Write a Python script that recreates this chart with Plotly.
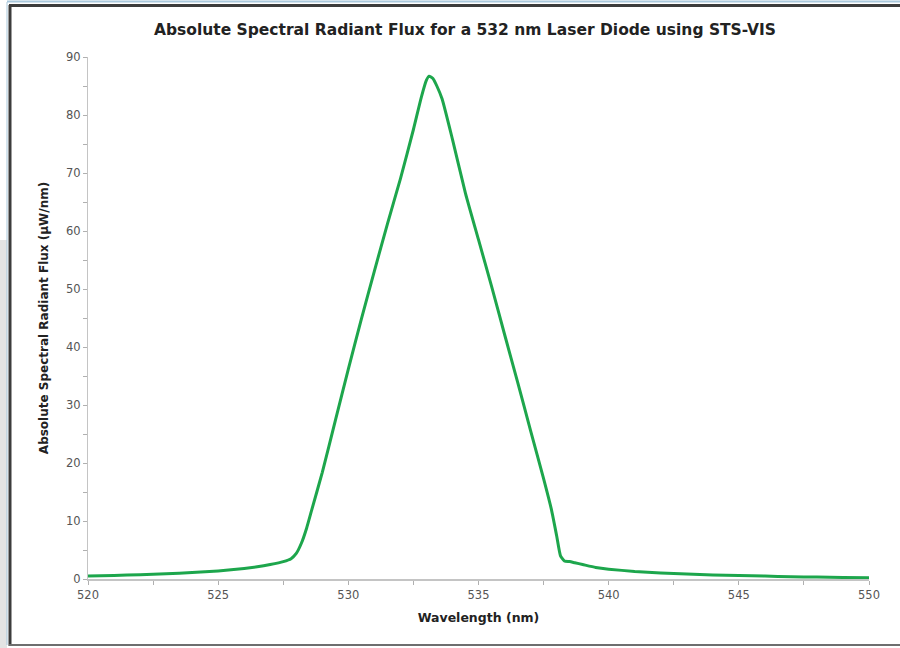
import plotly.graph_objects as go

wavelength = [520, 521, 522, 523, 524, 525, 526, 526.5, 527, 527.5, 527.8, 528.0, 528.2,
              528.4, 528.6, 529, 529.5, 530, 530.5, 531, 531.5, 532, 532.5, 532.8, 533.0,
              533.1, 533.25, 533.4, 533.6, 534, 534.5, 535, 535.5, 536, 536.5, 537, 537.5,
              537.8, 538.0, 538.15, 538.3, 538.5, 538.7, 539, 539.5, 540, 541, 542, 543,
              544, 545, 546, 547, 548, 549, 550]
flux = [0.5, 0.6, 0.75, 0.9, 1.1, 1.4, 1.8, 2.1, 2.5, 3.0, 3.5, 4.4, 6.2,
        8.8, 12.0, 18.4, 27.3, 36.2, 44.8, 53.1, 61.2, 69.0, 77.5, 83.0, 86.0,
        86.7, 86.3, 85.0, 82.8, 75.8, 66.5, 58.5, 50.5, 42.2, 34.0, 25.6, 17.3,
        12.0, 7.5, 4.0, 3.1, 3.0, 2.8, 2.5, 2.0, 1.7, 1.3, 1.05, 0.85,
        0.7, 0.6, 0.5, 0.4, 0.33, 0.27, 0.2]

title_text = "Absolute Spectral Radiant Flux for a 532 nm Laser Diode using STS-VIS"
x_title = "Wavelength (nm)"
y_title = "Absolute Spectral Radiant Flux (µW/nm)"

W, H = 900, 648
L, R, T, B = 88, 31, 57, 69
pw, ph = W - L - R, H - T - B


def px(x):
    return (x - L) / pw


def py(y):
    return (H - B - y) / ph


fig = go.Figure()
fig.add_trace(go.Scatter(
    x=wavelength, y=flux, mode="lines",
    line=dict(color="#1da64c", width=3, shape="spline", smoothing=0.5),
    hoverinfo="x+y", showlegend=False,
))

font_fam = "DejaVu Sans, Verdana, sans-serif"
axis_common = dict(
    showline=True, linecolor="#c4c4c4", showgrid=False, zeroline=False,
    ticks="outside", ticklen=4, tickcolor="#b0b0b0", tickwidth=1,
    tickfont=dict(family=font_fam, size=11.5, color="#555555"),
)

fig.update_layout(
    width=W, height=H,
    margin=dict(l=L, r=R, t=T, b=B),
    paper_bgcolor="white", plot_bgcolor="white",
    title=dict(text="<b>" + title_text + "</b>", x=465 / W, xanchor="center",
               y=1 - 30 / H, yanchor="middle",
               font=dict(family=font_fam, size=15.5, color="#222222")),
    xaxis=dict(range=[520, 550], dtick=5, tick0=520, linewidth=2,
               minor=dict(dtick=2.5, ticks="outside", ticklen=4, tickcolor="#b0b0b0"),
               title=dict(text="<b>" + x_title + "</b>", standoff=12,
                          font=dict(family=font_fam, size=12.5, color="#222222")),
               **axis_common),
    yaxis=dict(range=[0, 90], dtick=10, tick0=0, linewidth=1,
               minor=dict(dtick=5, ticks="outside", ticklen=4, tickcolor="#b0b0b0"),
               title=dict(text="<b>" + y_title + "</b>", standoff=14,
                          font=dict(family=font_fam, size=12, color="#222222")),
               **axis_common),
    shapes=[
        dict(type="rect", xref="paper", yref="paper", x0=px(0), x1=px(7), y0=py(648), y1=py(240),
             fillcolor="#e4e4e4", line=dict(width=0), layer="below"),
        dict(type="line", xref="paper", yref="paper", x0=px(7), x1=px(7), y0=py(645), y1=py(2),
             line=dict(color="#a9c8dc", width=1)),
        dict(type="line", xref="paper", yref="paper", x0=px(7), x1=px(900), y0=py(1.5), y1=py(1.5),
             line=dict(color="#a9c8dc", width=2)),
        dict(type="line", xref="paper", yref="paper", x0=px(10), x1=px(10), y0=py(646), y1=py(5),
             line=dict(color="#3c3c3c", width=3)),
        dict(type="line", xref="paper", yref="paper", x0=px(9), x1=px(900), y0=py(5.5), y1=py(5.5),
             line=dict(color="#3c3c3c", width=3)),
        dict(type="line", xref="paper", yref="paper", x0=px(9), x1=px(900), y0=py(645), y1=py(645),
             line=dict(color="#6e6e6e", width=2)),
    ],
)

fig.write_html("out.html", config={"displayModeBar": False},
               post_script="document.body.style.margin='0px';document.body.style.overflow='hidden';")
